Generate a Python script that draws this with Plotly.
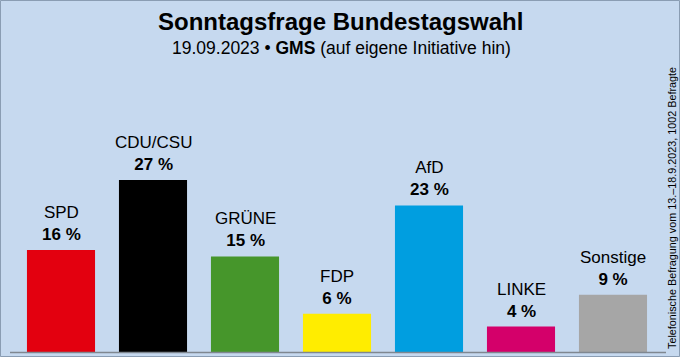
import plotly.graph_objects as go

parties = ["SPD", "CDU/CSU", "GRÜNE", "FDP", "AfD", "LINKE", "Sonstige"]
values = [16, 27, 15, 6, 23, 4, 9]
colors = ["#e3000f", "#000000", "#46962b", "#ffed00", "#009ee0", "#d4006a", "#a6a6a6"]

W, H = 680, 357
ML, MR, MT, MB = 15, 21, 60, 5
PW, PH = W - ML - MR, H - MT - MB
PX_PER_PCT = 6.37
YMAX = PH / PX_PER_PCT
BG = "#c6d9ef"
FONT = "Liberation Sans, Arial, sans-serif"

def px_to_paper_x(px):
    return (px - ML) / PW

def px_to_paper_y(py):
    return (H - MB - py) / PH

fig = go.Figure()
fig.add_trace(go.Bar(
    x=parties, y=values, marker_color=colors,
    marker_line_width=0, width=0.74, hoverinfo="skip",
))

for p, v in zip(parties, values):
    fig.add_annotation(
        x=p, y=v, text=f"{p}<br><b>{v} %</b>", showarrow=False,
        yanchor="bottom", yshift=4,
        font=dict(family=FONT, size=17, color="#000000"),
    )

fig.add_annotation(
    xref="paper", yref="paper", x=px_to_paper_x(340), y=px_to_paper_y(21),
    xanchor="center", yanchor="middle", showarrow=False,
    text="<b>Sonntagsfrage Bundestagswahl</b>",
    font=dict(family=FONT, size=24, color="#000000"),
)
fig.add_annotation(
    xref="paper", yref="paper", x=px_to_paper_x(341), y=px_to_paper_y(48),
    xanchor="center", yanchor="middle", showarrow=False,
    text="19.09.2023 • <b>GMS</b> (auf eigene Initiative hin)",
    font=dict(family=FONT, size=17.5, color="#000000"),
)
fig.add_annotation(
    xref="paper", yref="paper", x=px_to_paper_x(672), y=px_to_paper_y(208),
    xanchor="center", yanchor="middle", showarrow=False, textangle=-90,
    text="Telefonische Befragung vom 13.–18.9.2023, 1002 Befragte",
    font=dict(family=FONT, size=10.8, color="#000000"),
)

# baseline
fig.add_shape(type="line", xref="paper", yref="paper",
              x0=px_to_paper_x(10), x1=px_to_paper_x(666),
              y0=px_to_paper_y(352.5), y1=px_to_paper_y(352.5),
              line=dict(color="#7f8790", width=1.5))
# border
fig.add_shape(type="rect", xref="paper", yref="paper",
              x0=px_to_paper_x(0.5), x1=px_to_paper_x(679.5),
              y0=px_to_paper_y(356.5), y1=px_to_paper_y(0.5),
              line=dict(color="#8a9db3", width=1))

fig.update_layout(
    width=W, height=H,
    margin=dict(l=ML, r=MR, t=MT, b=MB, autoexpand=False),
    paper_bgcolor=BG, plot_bgcolor=BG,
    showlegend=False, bargap=0.26,
    xaxis=dict(visible=False, range=[-0.5, 6.5]),
    yaxis=dict(visible=False, range=[0, YMAX]),
)

fig.write_html("out.html", config={"displayModeBar": False, "staticPlot": True},
               post_script="document.body.style.margin='0';document.body.style.padding='0';document.body.style.overflow='hidden';")
